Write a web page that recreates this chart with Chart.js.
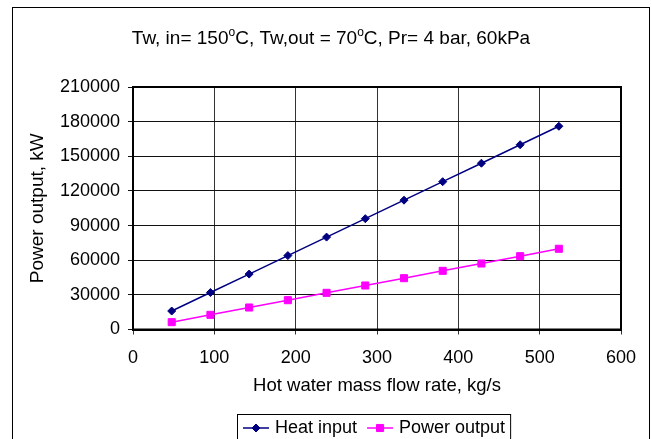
<!DOCTYPE html>
<html>
<head>
<meta charset="utf-8">
<script src="https://cdn.jsdelivr.net/npm/chart.js@4"></script>
<style>
  html, body { margin: 0; padding: 0; background: #fff; }
</style>
</head>
<body>
<canvas id="myChart" width="652" height="439"></canvas>
<script>
// hot water mass flow rate, kg/s
const flowRate = [47.6, 95.2, 142.8, 190.4, 238, 285.6, 333.2, 380.8, 428.4, 476, 523.6];
// kW
const heatInput = [16000, 32000, 48000, 64000, 80000, 96000, 112000, 128000, 144000, 160000, 176000];
const powerOutput = [6350, 12700, 19050, 25400, 31750, 38100, 44450, 50800, 57150, 63500, 69900];

const xTicks = [0, 100, 200, 300, 400, 500, 600];
const yTicks = [0, 30000, 60000, 90000, 120000, 150000, 180000, 210000];

const FONT = 'Liberation Sans, Arial, sans-serif';

// heading with superscript degree marks
const titleParts = [
  ['Tw, in= 150', false], ['o', true], ['C, Tw,out = 70', false], ['o', true], ['C, Pr= 4 bar, 60kPa', false]
];

const framePlugin = {
  id: 'frame',
  beforeDraw(chart) {
    const c = chart.ctx;
    c.save();
    c.fillStyle = '#fff';
    c.fillRect(0, 0, chart.width, chart.height);
    c.strokeStyle = '#000';
    c.lineWidth = 1;
    c.strokeRect(12.5, 7.5, 637, 445);
    c.restore();
  },
  afterDraw(chart) {
    const c = chart.ctx;
    const a = chart.chartArea;
    c.save();
    // plot area border
    c.strokeStyle = '#000';
    c.lineWidth = 2;
    c.strokeRect(a.left, a.top, a.right - a.left, a.bottom - a.top);

    // heading
    c.fillStyle = '#000';
    c.textBaseline = 'alphabetic';
    let total = 0;
    titleParts.forEach(([t, sup]) => {
      c.font = (sup ? '12px ' : '19px ') + FONT;
      total += c.measureText(t).width;
    });
    let x = 331 - total / 2;
    titleParts.forEach(([t, sup]) => {
      c.font = (sup ? '12px ' : '19px ') + FONT;
      c.fillText(t, x, sup ? 35.5 : 43.5);
      x += c.measureText(t).width;
    });

    // legend
    c.font = '18px ' + FONT;
    const items = chart.data.datasets;
    const textW = items.map(d => c.measureText(d.label).width);
    const boxL = 237.5, boxT = 414.5, cy = 428;
    let boxW = 6;
    items.forEach((d, i) => { boxW += 26 + 6 + textW[i] + (i < items.length - 1 ? 10 : 5); });
    c.lineWidth = 1;
    c.strokeStyle = '#000';
    c.strokeRect(boxL, boxT, boxW, 40);
    let lx = boxL + 5.5;
    items.forEach((d, i) => {
      c.strokeStyle = d.borderColor;
      c.lineWidth = 1.5;
      c.beginPath();
      c.moveTo(lx, cy);
      c.lineTo(lx + 26, cy);
      c.stroke();
      c.fillStyle = d.backgroundColor;
      c.lineWidth = 1;
      Chart.helpers.drawPoint(c, {
        pointStyle: d.pointStyle, radius: d.pointRadius, rotation: 0, borderWidth: 1
      }, lx + 13, cy);
      c.fillStyle = '#000';
      c.textBaseline = 'middle';
      c.fillText(d.label, lx + 32, cy);
      lx += 26 + 6 + textW[i] + 10;
    });
    c.restore();
  }
};

new Chart(document.getElementById('myChart'), {
  type: 'line',
  data: {
    datasets: [{
      label: 'Heat input',
      data: flowRate.map((x, i) => ({ x: x, y: heatInput[i] })),
      borderColor: '#000080',
      backgroundColor: '#000080',
      borderWidth: 1.5,
      pointStyle: 'rectRot',
      pointRadius: 4,
      pointBorderWidth: 1
    }, {
      label: 'Power output',
      data: flowRate.map((x, i) => ({ x: x, y: powerOutput[i] })),
      borderColor: '#ff00ff',
      backgroundColor: '#ff00ff',
      borderWidth: 1.5,
      pointStyle: 'rect',
      pointRadius: 5,
      pointBorderWidth: 1
    }]
  },
  options: {
    responsive: false,
    animation: false,
    devicePixelRatio: 1,
    layout: { padding: { top: 87, right: 31, bottom: 41.5, left: 0 } },
    plugins: {
      legend: { display: false },
      title: { display: false },
      tooltip: { enabled: false }
    },
    scales: {
      x: {
        type: 'linear',
        min: 0,
        max: 600,
        afterBuildTicks(scale) { scale.ticks = xTicks.map(v => ({ value: v })); },
        afterFit(scale) { scale.height = 68; },
        grid: { color: '#333', lineWidth: 1, tickLength: 5 },
        border: { color: '#000', width: 2 },
        ticks: {
          color: '#000', padding: 13, maxRotation: 0,
          font: { family: FONT, size: 18 },
          callback: v => String(v)
        },
        title: {
          display: true,
          text: 'Hot water mass flow rate, kg/s',
          color: '#000',
          font: { family: FONT, size: 18.5 },
          padding: { top: 0, bottom: 0 }
        }
      },
      y: {
        min: 0,
        max: 210000,
        afterBuildTicks(scale) { scale.ticks = yTicks.map(v => ({ value: v })); },
        afterFit(scale) { scale.width = 133; },
        grid: { color: '#111', lineWidth: 1, tickLength: 5 },
        border: { color: '#000', width: 2 },
        ticks: {
          color: '#000', padding: 8,
          font: { family: FONT, size: 18 },
          callback: v => String(v)
        },
        title: {
          display: true,
          text: 'Power output, kW',
          color: '#000',
          font: { family: FONT, size: 19 },
          padding: { top: 26.6, bottom: 0 }
        }
      }
    }
  },
  plugins: [framePlugin]
});
</script>
</body>
</html>
